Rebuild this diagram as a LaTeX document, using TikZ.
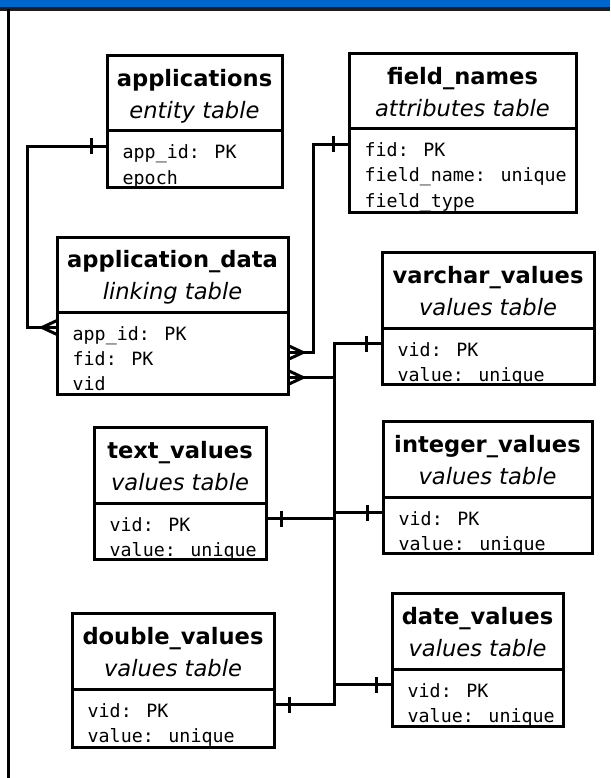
\documentclass[tikz,border=0pt]{standalone}
\usepackage{fontspec}
\newfontfamily\dvsans{DejaVu Sans}
\newfontfamily\dvmono{DejaVu Sans Mono}
\usetikzlibrary{calc}
\definecolor{barblue}{RGB}{0,102,204}
\definecolor{barline}{RGB}{30,30,30}

\tikzset{
  erframe/.style={draw=black, line width=3pt, fill=white, inner sep=0pt, outer sep=0pt, anchor=north west},
  conn/.style={draw=black, line width=3pt},
  crow/.style={draw=black, line width=3pt, line join=bevel},
  ertitle/.style={anchor=base, inner sep=0pt, font=\dvsans\bfseries\fontsize{22.6}{27}\selectfont},
  ersub/.style={anchor=base, inner sep=0pt, font=\dvsans\itshape\fontsize{22.6}{27}\selectfont},
  erfield/.style={anchor=base west, inner sep=0pt, font=\dvmono\fontsize{18.3}{22}\selectfont},
}

% \ertable{name}{top-left}{width}{header height}{body height}{title}{kind}
\newcommand{\ertable}[7]{%
  \node[erframe, minimum width=#3, minimum height=#4] (#1-h) at #2 {};
  \node[erframe, minimum width=#3, minimum height=#5] (#1) at (#1-h.south west) {};
  \node[ertitle] (#1-t) at ($(#1-h.north)+(0,{#4/2-7})$) {#6};
  \node[ersub] (#1-s) at ($(#1-h.north)+(0,{#4/2+25})$) {#7};
}

% \errow{table}{index}{text}: one field line, clipped to the table body
\newcommand{\errow}[3]{%
  \begin{scope}
    \clip (#1.south west) rectangle (#1.north east);
    \node[erfield] (#1-#2) at ($(#1.north west)+(15.5,{28+25*(#2-1)})$) {#3};
  \end{scope}
  \coordinate (#1-#2-y) at ($(#1-#2.base)+(0,-12.5)$);
}

% "one" mark: a bar across the line, #2 = side (-1 left, 1 right)
\newcommand{\erone}[2]{%
  \draw[conn] ($(#1)+({#2*15.5},-8)$) -- ($(#1)+({#2*15.5},8)$);}
% "many" mark: crow's foot opening onto the box edge
\newcommand{\ermany}[2]{%
  \draw[crow] ($(#1)+(0,-7)$) -- ($(#1)+({#2*15},0)$) -- ($(#1)+(0,7)$);}

\begin{document}
\begin{tikzpicture}[x=1pt, y=-1pt]
\useasboundingbox (0,0) rectangle (610,778);

% window chrome
\fill[barblue] (0,0) rectangle (610,7.3);
\draw[barline, line width=3.4pt] (0,9) -- (610,9);
\draw[black, line width=3pt] (8,9) -- (8,778);

% tables
\ertable{app}{(107,56)}{175}{75}{56}{applications}{entity table}
\errow{app}{1}{app\_id: PK}
\errow{app}{2}{epoch}

\ertable{fn}{(349,54)}{227}{75}{83}{field\_names}{attributes table}
\errow{fn}{1}{fid: PK}
\errow{fn}{2}{field\_name: unique}
\errow{fn}{3}{field\_type}

\ertable{ad}{(57,237)}{231}{75}{82}{application\_data}{linking table}
\errow{ad}{1}{app\_id: PK}
\errow{ad}{2}{fid: PK}
\errow{ad}{3}{vid}

\ertable{var}{(382,252)}{212}{76}{56}{varchar\_values}{values table}
\errow{var}{1}{vid: PK}
\errow{var}{2}{value: unique}

\ertable{txt}{(94,427)}{172}{76}{56}{text\_values}{values table}
\errow{txt}{1}{vid: PK}
\errow{txt}{2}{value: unique}

\ertable{int}{(383,421)}{209}{76}{56}{integer\_values}{values table}
\errow{int}{1}{vid: PK}
\errow{int}{2}{value: unique}

\ertable{dbl}{(72,613)}{202}{76}{58}{double\_values}{values table}
\errow{dbl}{1}{vid: PK}
\errow{dbl}{2}{value: unique}

\ertable{date}{(392,593)}{171}{76}{57}{date\_values}{values table}
\errow{date}{1}{vid: PK}
\errow{date}{2}{value: unique}

% attachment points
\coordinate (pApp)  at (app.west |- app-1-y);
\coordinate (pAdA)  at (ad.west |- ad-1-y);
\coordinate (pFn)   at (fn.west |- fn-1-y);
\coordinate (pAdF)  at (ad.east |- ad-2-y);
\coordinate (pAdV)  at (ad.east |- ad-3-y);
\coordinate (pVar)  at (var.west |- var-1-y);
\coordinate (pTxt)  at (txt.east |- txt-1-y);
\coordinate (pInt)  at (int.west |- int-1-y);
\coordinate (pDate) at (date.west |- date-1-y);
\coordinate (pDbl)  at (dbl.east |- dbl-1-y);

% routing lanes
\coordinate (lane)  at ($(app.west)+(-80,0)$);
\coordinate (lane2) at ($(ad.east)+(25,0)$);
\coordinate (bus)   at ($(ad.east)+(46,0)$);

% relationships
\draw[conn] (pApp) -| (lane |- pAdA) -- (pAdA);
\draw[conn] (pFn) -| (lane2 |- pAdF) -- (pAdF);
\draw[conn] (pAdV) -| (bus |- pVar) -- (pVar);
\draw[conn] (bus |- pAdV) |- (pInt);
\draw[conn] (bus |- pAdV) |- (pDate);
\draw[conn] (bus |- pAdV) |- (pDbl);
\draw[conn] (pTxt) -- (bus |- pTxt);

\erone{pApp}{-1}
\erone{pFn}{-1}
\erone{pVar}{-1}
\erone{pTxt}{1}
\erone{pInt}{-1}
\erone{pDate}{-1}
\erone{pDbl}{1}

\ermany{pAdA}{-1}
\ermany{pAdF}{1}
\ermany{pAdV}{1}
\end{tikzpicture}
\end{document}
